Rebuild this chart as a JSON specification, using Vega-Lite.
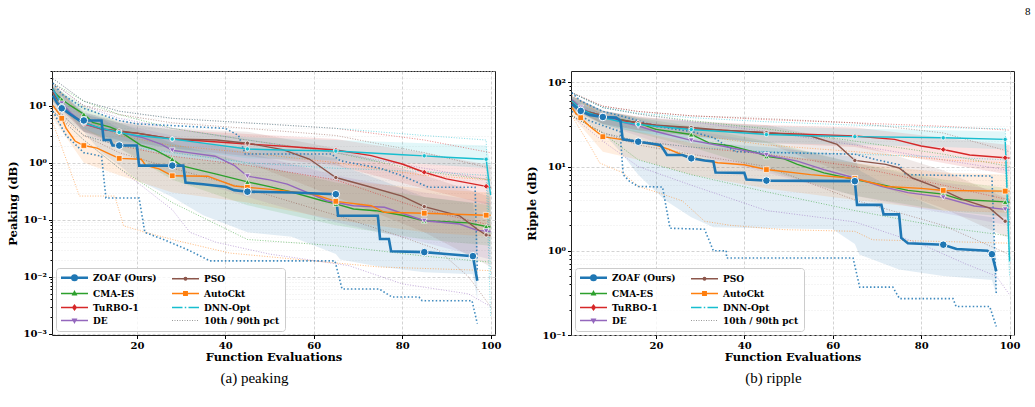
{
"$schema": "https://vega.github.io/schema/vega-lite/v6.json",
"background": "white",
"padding": {"left": 7, "top": 5, "right": 0, "bottom": 0},
"title": {"text": "8", "anchor": "end", "fontSize": 11, "font": "Liberation Serif", "fontWeight": "normal", "color": "#000", "offset": 49, "dx": 10},
"config": {
  "view": {"stroke": "#222", "strokeWidth": 1},
  "font": "DejaVu Serif",
  "axis": {"labelFont": "DejaVu Serif", "labelFontWeight": "bold", "labelFontSize": 10, "labelColor": "#000", "titleFont": "DejaVu Serif", "titleFontWeight": "bold", "titleFontSize": 11.5, "titleColor": "#000", "tickColor": "#000", "domain": false, "gridColor": "#c8c8c8", "gridWidth": 0.8, "gridDash": [3, 2], "tickSize": 3.5, "labelOverlap": false}
},
"resolve": {"scale": {"color": "independent", "shape": "independent", "stroke": "independent"}},
"spacing": 24,
"datasets": {
"med": [
{"p":"a","m":"ZOAF (Ours)","x":1,"v":15},{"p":"a","m":"ZOAF (Ours)","x":2,"v":11},{"p":"a","m":"ZOAF (Ours)","x":3,"v":9},{"p":"a","m":"ZOAF (Ours)","x":5,"v":7},{"p":"a","m":"ZOAF (Ours)","x":7,"v":5.5},{"p":"a","m":"ZOAF (Ours)","x":8,"v":5.5},{"p":"a","m":"ZOAF (Ours)","x":12,"v":5.5},{"p":"a","m":"ZOAF (Ours)","x":12.5,"v":2.5},{"p":"a","m":"ZOAF (Ours)","x":14,"v":2.5},{"p":"a","m":"ZOAF (Ours)","x":14.5,"v":2.0},{"p":"a","m":"ZOAF (Ours)","x":16,"v":2.0},{"p":"a","m":"ZOAF (Ours)","x":20,"v":2.0},{"p":"a","m":"ZOAF (Ours)","x":20.5,"v":0.89},{"p":"a","m":"ZOAF (Ours)","x":28,"v":0.89},{"p":"a","m":"ZOAF (Ours)","x":30.5,"v":0.89},{"p":"a","m":"ZOAF (Ours)","x":31,"v":0.45},{"p":"a","m":"ZOAF (Ours)","x":35,"v":0.42},{"p":"a","m":"ZOAF (Ours)","x":40,"v":0.38},{"p":"a","m":"ZOAF (Ours)","x":42,"v":0.33},{"p":"a","m":"ZOAF (Ours)","x":45,"v":0.31},{"p":"a","m":"ZOAF (Ours)","x":55,"v":0.3},{"p":"a","m":"ZOAF (Ours)","x":65,"v":0.28},{"p":"a","m":"ZOAF (Ours)","x":65.5,"v":0.117},{"p":"a","m":"ZOAF (Ours)","x":74.5,"v":0.117},{"p":"a","m":"ZOAF (Ours)","x":75,"v":0.046},{"p":"a","m":"ZOAF (Ours)","x":77,"v":0.046},{"p":"a","m":"ZOAF (Ours)","x":77.5,"v":0.028},{"p":"a","m":"ZOAF (Ours)","x":85,"v":0.027},{"p":"a","m":"ZOAF (Ours)","x":90,"v":0.025},{"p":"a","m":"ZOAF (Ours)","x":96,"v":0.023},{"p":"a","m":"ZOAF (Ours)","x":97,"v":0.0085},
{"p":"a","m":"CMA-ES","x":1,"v":18},{"p":"a","m":"CMA-ES","x":3,"v":13},{"p":"a","m":"CMA-ES","x":5,"v":10},{"p":"a","m":"CMA-ES","x":8,"v":7.1},{"p":"a","m":"CMA-ES","x":10,"v":5.1},{"p":"a","m":"CMA-ES","x":14,"v":4.2},{"p":"a","m":"CMA-ES","x":16,"v":3.6},{"p":"a","m":"CMA-ES","x":17,"v":3.2},{"p":"a","m":"CMA-ES","x":21,"v":2.0},{"p":"a","m":"CMA-ES","x":24,"v":1.7},{"p":"a","m":"CMA-ES","x":28,"v":1.16},{"p":"a","m":"CMA-ES","x":30,"v":0.89},{"p":"a","m":"CMA-ES","x":33,"v":0.78},{"p":"a","m":"CMA-ES","x":38,"v":0.63},{"p":"a","m":"CMA-ES","x":45,"v":0.46},{"p":"a","m":"CMA-ES","x":50,"v":0.38},{"p":"a","m":"CMA-ES","x":54,"v":0.32},{"p":"a","m":"CMA-ES","x":62,"v":0.215},{"p":"a","m":"CMA-ES","x":65,"v":0.19},{"p":"a","m":"CMA-ES","x":69,"v":0.154},{"p":"a","m":"CMA-ES","x":74,"v":0.144},{"p":"a","m":"CMA-ES","x":80,"v":0.12},{"p":"a","m":"CMA-ES","x":85,"v":0.096},{"p":"a","m":"CMA-ES","x":90,"v":0.092},{"p":"a","m":"CMA-ES","x":95,"v":0.088},{"p":"a","m":"CMA-ES","x":99,"v":0.076},{"p":"a","m":"CMA-ES","x":100,"v":0.075},
{"p":"a","m":"TuRBO-1","x":1,"v":20},{"p":"a","m":"TuRBO-1","x":3,"v":10},{"p":"a","m":"TuRBO-1","x":5,"v":7},{"p":"a","m":"TuRBO-1","x":8,"v":4.8},{"p":"a","m":"TuRBO-1","x":12,"v":3.9},{"p":"a","m":"TuRBO-1","x":16,"v":3.5},{"p":"a","m":"TuRBO-1","x":20,"v":3.3},{"p":"a","m":"TuRBO-1","x":28,"v":2.6},{"p":"a","m":"TuRBO-1","x":35,"v":2.4},{"p":"a","m":"TuRBO-1","x":45,"v":2.13},{"p":"a","m":"TuRBO-1","x":55,"v":1.9},{"p":"a","m":"TuRBO-1","x":65,"v":1.67},{"p":"a","m":"TuRBO-1","x":73,"v":1.33},{"p":"a","m":"TuRBO-1","x":80,"v":0.95},{"p":"a","m":"TuRBO-1","x":85,"v":0.68},{"p":"a","m":"TuRBO-1","x":90,"v":0.52},{"p":"a","m":"TuRBO-1","x":99,"v":0.385},{"p":"a","m":"TuRBO-1","x":100,"v":0.37},
{"p":"a","m":"DE","x":1,"v":18},{"p":"a","m":"DE","x":3,"v":11},{"p":"a","m":"DE","x":5,"v":7.5},{"p":"a","m":"DE","x":8,"v":4.9},{"p":"a","m":"DE","x":12,"v":3.9},{"p":"a","m":"DE","x":16,"v":3.4},{"p":"a","m":"DE","x":21,"v":2.8},{"p":"a","m":"DE","x":25.6,"v":2.1},{"p":"a","m":"DE","x":28,"v":1.65},{"p":"a","m":"DE","x":31.7,"v":1.5},{"p":"a","m":"DE","x":37.7,"v":1.3},{"p":"a","m":"DE","x":42,"v":0.9},{"p":"a","m":"DE","x":45,"v":0.58},{"p":"a","m":"DE","x":50,"v":0.5},{"p":"a","m":"DE","x":54,"v":0.42},{"p":"a","m":"DE","x":63,"v":0.215},{"p":"a","m":"DE","x":65,"v":0.2},{"p":"a","m":"DE","x":69,"v":0.176},{"p":"a","m":"DE","x":76,"v":0.165},{"p":"a","m":"DE","x":85,"v":0.096},{"p":"a","m":"DE","x":93,"v":0.084},{"p":"a","m":"DE","x":97,"v":0.065},{"p":"a","m":"DE","x":99,"v":0.063},{"p":"a","m":"DE","x":100,"v":0.062},
{"p":"a","m":"PSO","x":1,"v":17},{"p":"a","m":"PSO","x":3,"v":10},{"p":"a","m":"PSO","x":5,"v":7},{"p":"a","m":"PSO","x":8,"v":5.1},{"p":"a","m":"PSO","x":12,"v":3.9},{"p":"a","m":"PSO","x":16,"v":3.6},{"p":"a","m":"PSO","x":20,"v":3.3},{"p":"a","m":"PSO","x":28,"v":2.6},{"p":"a","m":"PSO","x":38,"v":2.5},{"p":"a","m":"PSO","x":45,"v":2.2},{"p":"a","m":"PSO","x":53,"v":1.7},{"p":"a","m":"PSO","x":59,"v":1.16},{"p":"a","m":"PSO","x":65,"v":0.55},{"p":"a","m":"PSO","x":72,"v":0.39},{"p":"a","m":"PSO","x":80,"v":0.26},{"p":"a","m":"PSO","x":85,"v":0.17},{"p":"a","m":"PSO","x":93,"v":0.117},{"p":"a","m":"PSO","x":97,"v":0.068},{"p":"a","m":"PSO","x":99,"v":0.054},{"p":"a","m":"PSO","x":100,"v":0.053},
{"p":"a","m":"AutoCkt","x":1,"v":10},{"p":"a","m":"AutoCkt","x":2.4,"v":7.2},{"p":"a","m":"AutoCkt","x":3,"v":6.0},{"p":"a","m":"AutoCkt","x":4,"v":4.0},{"p":"a","m":"AutoCkt","x":6,"v":2.4},{"p":"a","m":"AutoCkt","x":8,"v":2.0},{"p":"a","m":"AutoCkt","x":11,"v":1.8},{"p":"a","m":"AutoCkt","x":14,"v":1.4},{"p":"a","m":"AutoCkt","x":16,"v":1.19},{"p":"a","m":"AutoCkt","x":21,"v":1.15},{"p":"a","m":"AutoCkt","x":22,"v":0.9},{"p":"a","m":"AutoCkt","x":25,"v":0.78},{"p":"a","m":"AutoCkt","x":28,"v":0.59},{"p":"a","m":"AutoCkt","x":36,"v":0.58},{"p":"a","m":"AutoCkt","x":42,"v":0.39},{"p":"a","m":"AutoCkt","x":45,"v":0.37},{"p":"a","m":"AutoCkt","x":52,"v":0.33},{"p":"a","m":"AutoCkt","x":60,"v":0.28},{"p":"a","m":"AutoCkt","x":65,"v":0.21},{"p":"a","m":"AutoCkt","x":73,"v":0.176},{"p":"a","m":"AutoCkt","x":76,"v":0.135},{"p":"a","m":"AutoCkt","x":85,"v":0.13},{"p":"a","m":"AutoCkt","x":99,"v":0.12},{"p":"a","m":"AutoCkt","x":100,"v":0.12},
{"p":"a","m":"DNN-Opt","x":1,"v":20},{"p":"a","m":"DNN-Opt","x":3,"v":10},{"p":"a","m":"DNN-Opt","x":5,"v":7},{"p":"a","m":"DNN-Opt","x":8,"v":5.0},{"p":"a","m":"DNN-Opt","x":12,"v":4.0},{"p":"a","m":"DNN-Opt","x":16,"v":3.4},{"p":"a","m":"DNN-Opt","x":20,"v":3.0},{"p":"a","m":"DNN-Opt","x":28,"v":2.6},{"p":"a","m":"DNN-Opt","x":35,"v":2.2},{"p":"a","m":"DNN-Opt","x":45,"v":1.74},{"p":"a","m":"DNN-Opt","x":55,"v":1.65},{"p":"a","m":"DNN-Opt","x":65,"v":1.6},{"p":"a","m":"DNN-Opt","x":80,"v":1.38},{"p":"a","m":"DNN-Opt","x":85,"v":1.32},{"p":"a","m":"DNN-Opt","x":90,"v":1.25},{"p":"a","m":"DNN-Opt","x":99,"v":1.15},{"p":"a","m":"DNN-Opt","x":100,"v":0.27},
{"p":"b","m":"ZOAF (Ours)","x":1,"v":55},{"p":"b","m":"ZOAF (Ours)","x":3,"v":45.7},{"p":"b","m":"ZOAF (Ours)","x":5,"v":41},{"p":"b","m":"ZOAF (Ours)","x":8,"v":38.7},{"p":"b","m":"ZOAF (Ours)","x":11,"v":38},{"p":"b","m":"ZOAF (Ours)","x":12,"v":35},{"p":"b","m":"ZOAF (Ours)","x":12.5,"v":21},{"p":"b","m":"ZOAF (Ours)","x":16,"v":19.7},{"p":"b","m":"ZOAF (Ours)","x":18,"v":19},{"p":"b","m":"ZOAF (Ours)","x":21,"v":18},{"p":"b","m":"ZOAF (Ours)","x":21.5,"v":16.7},{"p":"b","m":"ZOAF (Ours)","x":22.5,"v":13.7},{"p":"b","m":"ZOAF (Ours)","x":26,"v":13.7},{"p":"b","m":"ZOAF (Ours)","x":28,"v":12.5},{"p":"b","m":"ZOAF (Ours)","x":31,"v":11.8},{"p":"b","m":"ZOAF (Ours)","x":33,"v":11.5},{"p":"b","m":"ZOAF (Ours)","x":33.5,"v":8.5},{"p":"b","m":"ZOAF (Ours)","x":40,"v":8.4},{"p":"b","m":"ZOAF (Ours)","x":40.5,"v":7.0},{"p":"b","m":"ZOAF (Ours)","x":45,"v":6.8},{"p":"b","m":"ZOAF (Ours)","x":65,"v":6.7},{"p":"b","m":"ZOAF (Ours)","x":65.5,"v":3.5},{"p":"b","m":"ZOAF (Ours)","x":71,"v":3.5},{"p":"b","m":"ZOAF (Ours)","x":71.5,"v":2.7},{"p":"b","m":"ZOAF (Ours)","x":75,"v":2.7},{"p":"b","m":"ZOAF (Ours)","x":75.5,"v":1.42},{"p":"b","m":"ZOAF (Ours)","x":77,"v":1.23},{"p":"b","m":"ZOAF (Ours)","x":85,"v":1.18},{"p":"b","m":"ZOAF (Ours)","x":88,"v":1.05},{"p":"b","m":"ZOAF (Ours)","x":95,"v":1.0},{"p":"b","m":"ZOAF (Ours)","x":96,"v":0.91},{"p":"b","m":"ZOAF (Ours)","x":97,"v":0.57},
{"p":"b","m":"CMA-ES","x":1,"v":60},{"p":"b","m":"CMA-ES","x":3,"v":48},{"p":"b","m":"CMA-ES","x":5,"v":44},{"p":"b","m":"CMA-ES","x":8,"v":40},{"p":"b","m":"CMA-ES","x":12,"v":36},{"p":"b","m":"CMA-ES","x":16,"v":33},{"p":"b","m":"CMA-ES","x":20,"v":27.6},{"p":"b","m":"CMA-ES","x":28,"v":24},{"p":"b","m":"CMA-ES","x":32,"v":19.1},{"p":"b","m":"CMA-ES","x":37,"v":17.5},{"p":"b","m":"CMA-ES","x":43,"v":14.5},{"p":"b","m":"CMA-ES","x":45,"v":13.2},{"p":"b","m":"CMA-ES","x":49,"v":12.3},{"p":"b","m":"CMA-ES","x":52,"v":10.6},{"p":"b","m":"CMA-ES","x":58,"v":8.4},{"p":"b","m":"CMA-ES","x":65,"v":7.0},{"p":"b","m":"CMA-ES","x":71,"v":6.1},{"p":"b","m":"CMA-ES","x":77,"v":5.2},{"p":"b","m":"CMA-ES","x":85,"v":4.7},{"p":"b","m":"CMA-ES","x":89,"v":4.05},{"p":"b","m":"CMA-ES","x":99,"v":3.8},{"p":"b","m":"CMA-ES","x":100,"v":3.77},
{"p":"b","m":"TuRBO-1","x":1,"v":58},{"p":"b","m":"TuRBO-1","x":3,"v":46},{"p":"b","m":"TuRBO-1","x":5,"v":42},{"p":"b","m":"TuRBO-1","x":8,"v":39},{"p":"b","m":"TuRBO-1","x":12,"v":35},{"p":"b","m":"TuRBO-1","x":16,"v":33},{"p":"b","m":"TuRBO-1","x":20,"v":31},{"p":"b","m":"TuRBO-1","x":28,"v":28},{"p":"b","m":"TuRBO-1","x":35,"v":27},{"p":"b","m":"TuRBO-1","x":45,"v":25},{"p":"b","m":"TuRBO-1","x":55,"v":24},{"p":"b","m":"TuRBO-1","x":65,"v":23},{"p":"b","m":"TuRBO-1","x":74,"v":21},{"p":"b","m":"TuRBO-1","x":80,"v":17.5},{"p":"b","m":"TuRBO-1","x":85,"v":15.9},{"p":"b","m":"TuRBO-1","x":91,"v":13.7},{"p":"b","m":"TuRBO-1","x":99,"v":12.7},{"p":"b","m":"TuRBO-1","x":100,"v":12.6},
{"p":"b","m":"DE","x":1,"v":62},{"p":"b","m":"DE","x":3,"v":50},{"p":"b","m":"DE","x":5,"v":44},{"p":"b","m":"DE","x":8,"v":40},{"p":"b","m":"DE","x":12,"v":34},{"p":"b","m":"DE","x":16,"v":30.3},{"p":"b","m":"DE","x":20,"v":26},{"p":"b","m":"DE","x":28,"v":20.4},{"p":"b","m":"DE","x":35,"v":17.5},{"p":"b","m":"DE","x":45,"v":13.7},{"p":"b","m":"DE","x":52,"v":11.6},{"p":"b","m":"DE","x":58,"v":9.2},{"p":"b","m":"DE","x":65,"v":7.3},{"p":"b","m":"DE","x":71,"v":5.8},{"p":"b","m":"DE","x":77,"v":4.9},{"p":"b","m":"DE","x":85,"v":4.3},{"p":"b","m":"DE","x":92,"v":3.4},{"p":"b","m":"DE","x":99,"v":3.1},{"p":"b","m":"DE","x":100,"v":3.08},
{"p":"b","m":"PSO","x":1,"v":60},{"p":"b","m":"PSO","x":3,"v":48},{"p":"b","m":"PSO","x":5,"v":44},{"p":"b","m":"PSO","x":8,"v":40},{"p":"b","m":"PSO","x":12,"v":36},{"p":"b","m":"PSO","x":16,"v":33},{"p":"b","m":"PSO","x":20,"v":31},{"p":"b","m":"PSO","x":28,"v":29},{"p":"b","m":"PSO","x":35,"v":27},{"p":"b","m":"PSO","x":45,"v":25.2},{"p":"b","m":"PSO","x":55,"v":23},{"p":"b","m":"PSO","x":61,"v":18.3},{"p":"b","m":"PSO","x":65,"v":11.8},{"p":"b","m":"PSO","x":72,"v":10.6},{"p":"b","m":"PSO","x":75,"v":9.6},{"p":"b","m":"PSO","x":78,"v":7.3},{"p":"b","m":"PSO","x":83,"v":5.8},{"p":"b","m":"PSO","x":85,"v":5.2},{"p":"b","m":"PSO","x":89.5,"v":4.05},{"p":"b","m":"PSO","x":95.5,"v":3.2},{"p":"b","m":"PSO","x":99,"v":2.24},{"p":"b","m":"PSO","x":100,"v":2.2},
{"p":"b","m":"AutoCkt","x":1,"v":50},{"p":"b","m":"AutoCkt","x":2,"v":42},{"p":"b","m":"AutoCkt","x":3,"v":38},{"p":"b","m":"AutoCkt","x":5,"v":30},{"p":"b","m":"AutoCkt","x":8,"v":22.6},{"p":"b","m":"AutoCkt","x":12,"v":21},{"p":"b","m":"AutoCkt","x":16,"v":19.7},{"p":"b","m":"AutoCkt","x":20,"v":18},{"p":"b","m":"AutoCkt","x":23,"v":16},{"p":"b","m":"AutoCkt","x":26,"v":13.7},{"p":"b","m":"AutoCkt","x":28,"v":12.9},{"p":"b","m":"AutoCkt","x":32,"v":11.6},{"p":"b","m":"AutoCkt","x":34,"v":11.1},{"p":"b","m":"AutoCkt","x":40,"v":10.5},{"p":"b","m":"AutoCkt","x":45,"v":9.2},{"p":"b","m":"AutoCkt","x":55,"v":8.0},{"p":"b","m":"AutoCkt","x":65,"v":7.2},{"p":"b","m":"AutoCkt","x":70,"v":6.2},{"p":"b","m":"AutoCkt","x":72,"v":5.8},{"p":"b","m":"AutoCkt","x":80,"v":5.5},{"p":"b","m":"AutoCkt","x":85,"v":5.2},{"p":"b","m":"AutoCkt","x":99,"v":5.1},{"p":"b","m":"AutoCkt","x":100,"v":5.1},
{"p":"b","m":"DNN-Opt","x":1,"v":60},{"p":"b","m":"DNN-Opt","x":3,"v":48},{"p":"b","m":"DNN-Opt","x":5,"v":43},{"p":"b","m":"DNN-Opt","x":8,"v":38},{"p":"b","m":"DNN-Opt","x":12,"v":34},{"p":"b","m":"DNN-Opt","x":16,"v":31.6},{"p":"b","m":"DNN-Opt","x":20,"v":30},{"p":"b","m":"DNN-Opt","x":28,"v":27.5},{"p":"b","m":"DNN-Opt","x":35,"v":26},{"p":"b","m":"DNN-Opt","x":45,"v":24},{"p":"b","m":"DNN-Opt","x":55,"v":23.2},{"p":"b","m":"DNN-Opt","x":65,"v":22.6},{"p":"b","m":"DNN-Opt","x":85,"v":21.9},{"p":"b","m":"DNN-Opt","x":99,"v":21},{"p":"b","m":"DNN-Opt","x":100,"v":0.75}
],
"band": [
{"p":"a","m":"ZOAF (Ours)","x":1,"v":10,"v2":20},{"p":"a","m":"ZOAF (Ours)","x":3,"v":6,"v2":12},{"p":"a","m":"ZOAF (Ours)","x":8,"v":3.5,"v2":7},{"p":"a","m":"ZOAF (Ours)","x":12,"v":1.5,"v2":6},{"p":"a","m":"ZOAF (Ours)","x":16,"v":0.9,"v2":4},{"p":"a","m":"ZOAF (Ours)","x":20,"v":0.5,"v2":3},{"p":"a","m":"ZOAF (Ours)","x":28,"v":0.25,"v2":2.5},{"p":"a","m":"ZOAF (Ours)","x":35,"v":0.12,"v2":2.2},{"p":"a","m":"ZOAF (Ours)","x":45,"v":0.06,"v2":1.8},{"p":"a","m":"ZOAF (Ours)","x":55,"v":0.05,"v2":1.6},{"p":"a","m":"ZOAF (Ours)","x":65,"v":0.025,"v2":1.2},{"p":"a","m":"ZOAF (Ours)","x":66,"v":0.02,"v2":0.9},{"p":"a","m":"ZOAF (Ours)","x":75,"v":0.015,"v2":0.5},{"p":"a","m":"ZOAF (Ours)","x":85,"v":0.012,"v2":0.25},{"p":"a","m":"ZOAF (Ours)","x":96,"v":0.011,"v2":0.2},{"p":"a","m":"ZOAF (Ours)","x":97,"v":0.004,"v2":0.05},
{"p":"a","m":"CMA-ES","x":1,"v":12,"v2":22},{"p":"a","m":"CMA-ES","x":8,"v":4,"v2":10},{"p":"a","m":"CMA-ES","x":16,"v":1.8,"v2":5},{"p":"a","m":"CMA-ES","x":28,"v":0.5,"v2":2.2},{"p":"a","m":"CMA-ES","x":45,"v":0.18,"v2":1.0},{"p":"a","m":"CMA-ES","x":65,"v":0.08,"v2":0.45},{"p":"a","m":"CMA-ES","x":85,"v":0.045,"v2":0.25},{"p":"a","m":"CMA-ES","x":100,"v":0.035,"v2":0.18},
{"p":"a","m":"TuRBO-1","x":1,"v":14,"v2":25},{"p":"a","m":"TuRBO-1","x":8,"v":3.5,"v2":7},{"p":"a","m":"TuRBO-1","x":16,"v":2.5,"v2":5},{"p":"a","m":"TuRBO-1","x":28,"v":1.8,"v2":3.8},{"p":"a","m":"TuRBO-1","x":45,"v":1.3,"v2":3.2},{"p":"a","m":"TuRBO-1","x":65,"v":0.9,"v2":2.6},{"p":"a","m":"TuRBO-1","x":85,"v":0.35,"v2":1.5},{"p":"a","m":"TuRBO-1","x":100,"v":0.18,"v2":0.9},
{"p":"a","m":"DE","x":1,"v":12,"v2":22},{"p":"a","m":"DE","x":8,"v":3.5,"v2":8},{"p":"a","m":"DE","x":16,"v":1.8,"v2":4.8},{"p":"a","m":"DE","x":28,"v":0.6,"v2":3},{"p":"a","m":"DE","x":45,"v":0.25,"v2":1.5},{"p":"a","m":"DE","x":65,"v":0.09,"v2":0.6},{"p":"a","m":"DE","x":85,"v":0.04,"v2":0.3},{"p":"a","m":"DE","x":100,"v":0.02,"v2":0.2},
{"p":"a","m":"PSO","x":1,"v":12,"v2":22},{"p":"a","m":"PSO","x":8,"v":3.5,"v2":7.5},{"p":"a","m":"PSO","x":16,"v":2.2,"v2":5.5},{"p":"a","m":"PSO","x":28,"v":1.5,"v2":4},{"p":"a","m":"PSO","x":45,"v":1.0,"v2":3.5},{"p":"a","m":"PSO","x":65,"v":0.25,"v2":1.8},{"p":"a","m":"PSO","x":85,"v":0.06,"v2":0.6},{"p":"a","m":"PSO","x":100,"v":0.015,"v2":0.25},
{"p":"a","m":"AutoCkt","x":1,"v":6,"v2":15},{"p":"a","m":"AutoCkt","x":8,"v":1.0,"v2":4},{"p":"a","m":"AutoCkt","x":16,"v":0.6,"v2":2.2},{"p":"a","m":"AutoCkt","x":28,"v":0.3,"v2":1.3},{"p":"a","m":"AutoCkt","x":45,"v":0.2,"v2":0.9},{"p":"a","m":"AutoCkt","x":65,"v":0.1,"v2":0.5},{"p":"a","m":"AutoCkt","x":85,"v":0.06,"v2":0.35},{"p":"a","m":"AutoCkt","x":100,"v":0.05,"v2":0.3},
{"p":"a","m":"DNN-Opt","x":1,"v":14,"v2":25},{"p":"a","m":"DNN-Opt","x":8,"v":3.5,"v2":7.5},{"p":"a","m":"DNN-Opt","x":16,"v":2.4,"v2":5},{"p":"a","m":"DNN-Opt","x":28,"v":1.8,"v2":3.8},{"p":"a","m":"DNN-Opt","x":45,"v":1.2,"v2":2.8},{"p":"a","m":"DNN-Opt","x":65,"v":1.1,"v2":2.5},{"p":"a","m":"DNN-Opt","x":85,"v":0.95,"v2":2.2},{"p":"a","m":"DNN-Opt","x":99,"v":0.8,"v2":2.0},{"p":"a","m":"DNN-Opt","x":100,"v":0.02,"v2":1.0},
{"p":"b","m":"ZOAF (Ours)","x":1,"v":45,"v2":65},{"p":"b","m":"ZOAF (Ours)","x":3,"v":38,"v2":55},{"p":"b","m":"ZOAF (Ours)","x":8,"v":25,"v2":42},{"p":"b","m":"ZOAF (Ours)","x":12,"v":15,"v2":38},{"p":"b","m":"ZOAF (Ours)","x":16,"v":8,"v2":30},{"p":"b","m":"ZOAF (Ours)","x":22,"v":4,"v2":25},{"p":"b","m":"ZOAF (Ours)","x":28,"v":2.5,"v2":22},{"p":"b","m":"ZOAF (Ours)","x":33,"v":1.9,"v2":19},{"p":"b","m":"ZOAF (Ours)","x":45,"v":1.85,"v2":17},{"p":"b","m":"ZOAF (Ours)","x":60,"v":1.8,"v2":14},{"p":"b","m":"ZOAF (Ours)","x":65,"v":1.2,"v2":13},{"p":"b","m":"ZOAF (Ours)","x":66,"v":0.9,"v2":9},{"p":"b","m":"ZOAF (Ours)","x":75,"v":0.6,"v2":5},{"p":"b","m":"ZOAF (Ours)","x":85,"v":0.5,"v2":3},{"p":"b","m":"ZOAF (Ours)","x":96,"v":0.45,"v2":2.5},{"p":"b","m":"ZOAF (Ours)","x":97,"v":0.3,"v2":0.8},
{"p":"b","m":"CMA-ES","x":1,"v":50,"v2":68},{"p":"b","m":"CMA-ES","x":8,"v":32,"v2":46},{"p":"b","m":"CMA-ES","x":16,"v":25,"v2":38},{"p":"b","m":"CMA-ES","x":28,"v":17,"v2":30},{"p":"b","m":"CMA-ES","x":45,"v":9,"v2":20},{"p":"b","m":"CMA-ES","x":65,"v":4.5,"v2":11},{"p":"b","m":"CMA-ES","x":85,"v":3,"v2":7},{"p":"b","m":"CMA-ES","x":100,"v":2.5,"v2":5.5},
{"p":"b","m":"TuRBO-1","x":1,"v":48,"v2":68},{"p":"b","m":"TuRBO-1","x":8,"v":32,"v2":46},{"p":"b","m":"TuRBO-1","x":16,"v":27,"v2":39},{"p":"b","m":"TuRBO-1","x":28,"v":23,"v2":34},{"p":"b","m":"TuRBO-1","x":45,"v":19,"v2":31},{"p":"b","m":"TuRBO-1","x":65,"v":17,"v2":29},{"p":"b","m":"TuRBO-1","x":85,"v":11,"v2":22},{"p":"b","m":"TuRBO-1","x":100,"v":8,"v2":18},
{"p":"b","m":"DE","x":1,"v":50,"v2":70},{"p":"b","m":"DE","x":8,"v":32,"v2":46},{"p":"b","m":"DE","x":16,"v":23,"v2":37},{"p":"b","m":"DE","x":28,"v":14,"v2":27},{"p":"b","m":"DE","x":45,"v":8.5,"v2":19},{"p":"b","m":"DE","x":65,"v":4.5,"v2":11},{"p":"b","m":"DE","x":85,"v":2.8,"v2":6.5},{"p":"b","m":"DE","x":100,"v":2.0,"v2":5},
{"p":"b","m":"PSO","x":1,"v":48,"v2":68},{"p":"b","m":"PSO","x":8,"v":32,"v2":46},{"p":"b","m":"PSO","x":16,"v":27,"v2":39},{"p":"b","m":"PSO","x":28,"v":23,"v2":35},{"p":"b","m":"PSO","x":45,"v":19,"v2":31},{"p":"b","m":"PSO","x":65,"v":7.5,"v2":19},{"p":"b","m":"PSO","x":85,"v":3.2,"v2":9},{"p":"b","m":"PSO","x":100,"v":1.4,"v2":4},
{"p":"b","m":"AutoCkt","x":1,"v":40,"v2":62},{"p":"b","m":"AutoCkt","x":8,"v":15,"v2":32},{"p":"b","m":"AutoCkt","x":16,"v":12,"v2":26},{"p":"b","m":"AutoCkt","x":28,"v":8,"v2":19},{"p":"b","m":"AutoCkt","x":45,"v":5.5,"v2":14},{"p":"b","m":"AutoCkt","x":65,"v":4,"v2":11},{"p":"b","m":"AutoCkt","x":85,"v":3,"v2":8.5},{"p":"b","m":"AutoCkt","x":100,"v":2.8,"v2":8},
{"p":"b","m":"DNN-Opt","x":1,"v":48,"v2":68},{"p":"b","m":"DNN-Opt","x":8,"v":31,"v2":46},{"p":"b","m":"DNN-Opt","x":16,"v":25,"v2":38},{"p":"b","m":"DNN-Opt","x":28,"v":22,"v2":34},{"p":"b","m":"DNN-Opt","x":45,"v":19,"v2":30},{"p":"b","m":"DNN-Opt","x":65,"v":18,"v2":28},{"p":"b","m":"DNN-Opt","x":85,"v":17,"v2":27},{"p":"b","m":"DNN-Opt","x":99,"v":16,"v2":26},{"p":"b","m":"DNN-Opt","x":100,"v":0.3,"v2":2}
],
"pct": [
{"p":"a","m":"ZOAF (Ours)","q":"p10","x":1,"v":8},{"p":"a","m":"ZOAF (Ours)","q":"p10","x":4,"v":3},{"p":"a","m":"ZOAF (Ours)","q":"p10","x":8,"v":1.5},{"p":"a","m":"ZOAF (Ours)","q":"p10","x":12,"v":1.3},{"p":"a","m":"ZOAF (Ours)","q":"p10","x":13,"v":0.24},{"p":"a","m":"ZOAF (Ours)","q":"p10","x":20.5,"v":0.24},{"p":"a","m":"ZOAF (Ours)","q":"p10","x":21.8,"v":0.06},{"p":"a","m":"ZOAF (Ours)","q":"p10","x":26,"v":0.045},{"p":"a","m":"ZOAF (Ours)","q":"p10","x":31.8,"v":0.029},{"p":"a","m":"ZOAF (Ours)","q":"p10","x":36.5,"v":0.019},{"p":"a","m":"ZOAF (Ours)","q":"p10","x":64.8,"v":0.019},{"p":"a","m":"ZOAF (Ours)","q":"p10","x":66.4,"v":0.0061},{"p":"a","m":"ZOAF (Ours)","q":"p10","x":74.8,"v":0.0061},{"p":"a","m":"ZOAF (Ours)","q":"p10","x":77.7,"v":0.0044},{"p":"a","m":"ZOAF (Ours)","q":"p10","x":83.8,"v":0.0044},{"p":"a","m":"ZOAF (Ours)","q":"p10","x":84.5,"v":0.0038},{"p":"a","m":"ZOAF (Ours)","q":"p10","x":95.8,"v":0.0038},{"p":"a","m":"ZOAF (Ours)","q":"p10","x":97,"v":0.0015},
{"p":"a","m":"ZOAF (Ours)","q":"p90","x":1,"v":25},{"p":"a","m":"ZOAF (Ours)","q":"p90","x":3,"v":16},{"p":"a","m":"ZOAF (Ours)","q":"p90","x":8,"v":9},{"p":"a","m":"ZOAF (Ours)","q":"p90","x":12,"v":7},{"p":"a","m":"ZOAF (Ours)","q":"p90","x":16,"v":5.5},{"p":"a","m":"ZOAF (Ours)","q":"p90","x":20,"v":4.8},{"p":"a","m":"ZOAF (Ours)","q":"p90","x":30,"v":4.4},{"p":"a","m":"ZOAF (Ours)","q":"p90","x":40,"v":4.0},{"p":"a","m":"ZOAF (Ours)","q":"p90","x":43,"v":3.0},{"p":"a","m":"ZOAF (Ours)","q":"p90","x":44.5,"v":1.42},{"p":"a","m":"ZOAF (Ours)","q":"p90","x":64,"v":1.42},{"p":"a","m":"ZOAF (Ours)","q":"p90","x":66,"v":1.08},{"p":"a","m":"ZOAF (Ours)","q":"p90","x":75,"v":0.8},{"p":"a","m":"ZOAF (Ours)","q":"p90","x":80,"v":0.59},{"p":"a","m":"ZOAF (Ours)","q":"p90","x":86,"v":0.37},{"p":"a","m":"ZOAF (Ours)","q":"p90","x":96.5,"v":0.37},{"p":"a","m":"ZOAF (Ours)","q":"p90","x":97,"v":0.012},
{"p":"a","m":"CMA-ES","q":"p10","x":1,"v":8},{"p":"a","m":"CMA-ES","q":"p10","x":8,"v":2.5},{"p":"a","m":"CMA-ES","q":"p10","x":16,"v":0.8},{"p":"a","m":"CMA-ES","q":"p10","x":28,"v":0.2},{"p":"a","m":"CMA-ES","q":"p10","x":45,"v":0.045},{"p":"a","m":"CMA-ES","q":"p10","x":65,"v":0.035},{"p":"a","m":"CMA-ES","q":"p10","x":85,"v":0.023},{"p":"a","m":"CMA-ES","q":"p10","x":100,"v":0.018},
{"p":"a","m":"CMA-ES","q":"p90","x":1,"v":25},{"p":"a","m":"CMA-ES","q":"p90","x":8,"v":12},{"p":"a","m":"CMA-ES","q":"p90","x":16,"v":7},{"p":"a","m":"CMA-ES","q":"p90","x":28,"v":4},{"p":"a","m":"CMA-ES","q":"p90","x":45,"v":2.5},{"p":"a","m":"CMA-ES","q":"p90","x":65,"v":1.5},{"p":"a","m":"CMA-ES","q":"p90","x":85,"v":0.7},{"p":"a","m":"CMA-ES","q":"p90","x":100,"v":0.5},
{"p":"a","m":"TuRBO-1","q":"p10","x":1,"v":10},{"p":"a","m":"TuRBO-1","q":"p10","x":8,"v":3},{"p":"a","m":"TuRBO-1","q":"p10","x":16,"v":2},{"p":"a","m":"TuRBO-1","q":"p10","x":28,"v":1.3},{"p":"a","m":"TuRBO-1","q":"p10","x":45,"v":0.9},{"p":"a","m":"TuRBO-1","q":"p10","x":65,"v":0.5},{"p":"a","m":"TuRBO-1","q":"p10","x":85,"v":0.15},{"p":"a","m":"TuRBO-1","q":"p10","x":100,"v":0.08},
{"p":"a","m":"TuRBO-1","q":"p90","x":1,"v":30},{"p":"a","m":"TuRBO-1","q":"p90","x":8,"v":12},{"p":"a","m":"TuRBO-1","q":"p90","x":16,"v":8},{"p":"a","m":"TuRBO-1","q":"p90","x":28,"v":6},{"p":"a","m":"TuRBO-1","q":"p90","x":45,"v":5},{"p":"a","m":"TuRBO-1","q":"p90","x":65,"v":4},{"p":"a","m":"TuRBO-1","q":"p90","x":85,"v":2.5},{"p":"a","m":"TuRBO-1","q":"p90","x":100,"v":1.5},
{"p":"a","m":"DE","q":"p10","x":1,"v":8},{"p":"a","m":"DE","q":"p10","x":8,"v":2.5},{"p":"a","m":"DE","q":"p10","x":16,"v":0.8},{"p":"a","m":"DE","q":"p10","x":28,"v":0.15},{"p":"a","m":"DE","q":"p10","x":32,"v":0.06},{"p":"a","m":"DE","q":"p10","x":38,"v":0.04},{"p":"a","m":"DE","q":"p10","x":50,"v":0.025},{"p":"a","m":"DE","q":"p10","x":68,"v":0.0156},{"p":"a","m":"DE","q":"p10","x":80,"v":0.0075},{"p":"a","m":"DE","q":"p10","x":95,"v":0.005},{"p":"a","m":"DE","q":"p10","x":100,"v":0.003},
{"p":"a","m":"DE","q":"p90","x":1,"v":25},{"p":"a","m":"DE","q":"p90","x":8,"v":10},{"p":"a","m":"DE","q":"p90","x":16,"v":6},{"p":"a","m":"DE","q":"p90","x":28,"v":4},{"p":"a","m":"DE","q":"p90","x":45,"v":2.5},{"p":"a","m":"DE","q":"p90","x":65,"v":1.5},{"p":"a","m":"DE","q":"p90","x":85,"v":0.8},{"p":"a","m":"DE","q":"p90","x":100,"v":0.5},
{"p":"a","m":"PSO","q":"p10","x":1,"v":8},{"p":"a","m":"PSO","q":"p10","x":8,"v":3},{"p":"a","m":"PSO","q":"p10","x":16,"v":1.5},{"p":"a","m":"PSO","q":"p10","x":28,"v":0.8},{"p":"a","m":"PSO","q":"p10","x":45,"v":0.35},{"p":"a","m":"PSO","q":"p10","x":65,"v":0.12},{"p":"a","m":"PSO","q":"p10","x":80,"v":0.05},{"p":"a","m":"PSO","q":"p10","x":88,"v":0.03},{"p":"a","m":"PSO","q":"p10","x":95,"v":0.01},{"p":"a","m":"PSO","q":"p10","x":100,"v":0.003},
{"p":"a","m":"PSO","q":"p90","x":1,"v":25},{"p":"a","m":"PSO","q":"p90","x":8,"v":10},{"p":"a","m":"PSO","q":"p90","x":16,"v":7},{"p":"a","m":"PSO","q":"p90","x":28,"v":5},{"p":"a","m":"PSO","q":"p90","x":45,"v":4},{"p":"a","m":"PSO","q":"p90","x":65,"v":3},{"p":"a","m":"PSO","q":"p90","x":85,"v":1.5},{"p":"a","m":"PSO","q":"p90","x":100,"v":0.8},
{"p":"a","m":"AutoCkt","q":"p10","x":1,"v":5},{"p":"a","m":"AutoCkt","q":"p10","x":4.5,"v":0.9},{"p":"a","m":"AutoCkt","q":"p10","x":7,"v":0.26},{"p":"a","m":"AutoCkt","q":"p10","x":15,"v":0.26},{"p":"a","m":"AutoCkt","q":"p10","x":17,"v":0.078},{"p":"a","m":"AutoCkt","q":"p10","x":22,"v":0.06},{"p":"a","m":"AutoCkt","q":"p10","x":29,"v":0.043},{"p":"a","m":"AutoCkt","q":"p10","x":41,"v":0.026},{"p":"a","m":"AutoCkt","q":"p10","x":63,"v":0.018},{"p":"a","m":"AutoCkt","q":"p10","x":75,"v":0.0148},{"p":"a","m":"AutoCkt","q":"p10","x":100,"v":0.0128},
{"p":"a","m":"AutoCkt","q":"p90","x":1,"v":25},{"p":"a","m":"AutoCkt","q":"p90","x":8,"v":6},{"p":"a","m":"AutoCkt","q":"p90","x":16,"v":3},{"p":"a","m":"AutoCkt","q":"p90","x":28,"v":2},{"p":"a","m":"AutoCkt","q":"p90","x":45,"v":1.5},{"p":"a","m":"AutoCkt","q":"p90","x":65,"v":1.0},{"p":"a","m":"AutoCkt","q":"p90","x":85,"v":0.6},{"p":"a","m":"AutoCkt","q":"p90","x":100,"v":0.5},
{"p":"a","m":"DNN-Opt","q":"p10","x":1,"v":10},{"p":"a","m":"DNN-Opt","q":"p10","x":8,"v":3},{"p":"a","m":"DNN-Opt","q":"p10","x":16,"v":2},{"p":"a","m":"DNN-Opt","q":"p10","x":28,"v":1.5},{"p":"a","m":"DNN-Opt","q":"p10","x":45,"v":1},{"p":"a","m":"DNN-Opt","q":"p10","x":65,"v":0.8},{"p":"a","m":"DNN-Opt","q":"p10","x":85,"v":0.7},{"p":"a","m":"DNN-Opt","q":"p10","x":99,"v":0.6},{"p":"a","m":"DNN-Opt","q":"p10","x":100,"v":0.002},
{"p":"a","m":"DNN-Opt","q":"p90","x":1,"v":30},{"p":"a","m":"DNN-Opt","q":"p90","x":8,"v":12},{"p":"a","m":"DNN-Opt","q":"p90","x":16,"v":8},{"p":"a","m":"DNN-Opt","q":"p90","x":28,"v":6},{"p":"a","m":"DNN-Opt","q":"p90","x":45,"v":5},{"p":"a","m":"DNN-Opt","q":"p90","x":65,"v":4},{"p":"a","m":"DNN-Opt","q":"p90","x":85,"v":3},{"p":"a","m":"DNN-Opt","q":"p90","x":99,"v":2.5},{"p":"a","m":"DNN-Opt","q":"p90","x":100,"v":0.01},
{"p":"b","m":"ZOAF (Ours)","q":"p10","x":1,"v":45},{"p":"b","m":"ZOAF (Ours)","q":"p10","x":5,"v":35},{"p":"b","m":"ZOAF (Ours)","q":"p10","x":11.9,"v":26},{"p":"b","m":"ZOAF (Ours)","q":"p10","x":12.6,"v":8.0},{"p":"b","m":"ZOAF (Ours)","q":"p10","x":14,"v":6.7},{"p":"b","m":"ZOAF (Ours)","q":"p10","x":16,"v":5.8},{"p":"b","m":"ZOAF (Ours)","q":"p10","x":21.5,"v":5.7},{"p":"b","m":"ZOAF (Ours)","q":"p10","x":23.2,"v":1.85},{"p":"b","m":"ZOAF (Ours)","q":"p10","x":31,"v":1.8},{"p":"b","m":"ZOAF (Ours)","q":"p10","x":33,"v":1.0},{"p":"b","m":"ZOAF (Ours)","q":"p10","x":35.9,"v":1.0},{"p":"b","m":"ZOAF (Ours)","q":"p10","x":36,"v":0.82},{"p":"b","m":"ZOAF (Ours)","q":"p10","x":64.6,"v":0.82},{"p":"b","m":"ZOAF (Ours)","q":"p10","x":66.1,"v":0.37},{"p":"b","m":"ZOAF (Ours)","q":"p10","x":73.6,"v":0.37},{"p":"b","m":"ZOAF (Ours)","q":"p10","x":75.1,"v":0.27},{"p":"b","m":"ZOAF (Ours)","q":"p10","x":87.2,"v":0.27},{"p":"b","m":"ZOAF (Ours)","q":"p10","x":87.9,"v":0.218},{"p":"b","m":"ZOAF (Ours)","q":"p10","x":95.5,"v":0.218},{"p":"b","m":"ZOAF (Ours)","q":"p10","x":97,"v":0.126},
{"p":"b","m":"ZOAF (Ours)","q":"p90","x":1,"v":75},{"p":"b","m":"ZOAF (Ours)","q":"p90","x":3,"v":60},{"p":"b","m":"ZOAF (Ours)","q":"p90","x":8,"v":45},{"p":"b","m":"ZOAF (Ours)","q":"p90","x":12,"v":40},{"p":"b","m":"ZOAF (Ours)","q":"p90","x":16,"v":35},{"p":"b","m":"ZOAF (Ours)","q":"p90","x":20,"v":30},{"p":"b","m":"ZOAF (Ours)","q":"p90","x":28,"v":26},{"p":"b","m":"ZOAF (Ours)","q":"p90","x":33,"v":22},{"p":"b","m":"ZOAF (Ours)","q":"p90","x":38,"v":15},{"p":"b","m":"ZOAF (Ours)","q":"p90","x":50,"v":14.5},{"p":"b","m":"ZOAF (Ours)","q":"p90","x":65,"v":14},{"p":"b","m":"ZOAF (Ours)","q":"p90","x":70,"v":12},{"p":"b","m":"ZOAF (Ours)","q":"p90","x":75,"v":10.5},{"p":"b","m":"ZOAF (Ours)","q":"p90","x":76.5,"v":8.0},{"p":"b","m":"ZOAF (Ours)","q":"p90","x":96,"v":7.7},{"p":"b","m":"ZOAF (Ours)","q":"p90","x":97,"v":0.3},
{"p":"b","m":"CMA-ES","q":"p10","x":1,"v":40},{"p":"b","m":"CMA-ES","q":"p10","x":8,"v":25},{"p":"b","m":"CMA-ES","q":"p10","x":16,"v":12},{"p":"b","m":"CMA-ES","q":"p10","x":28,"v":8},{"p":"b","m":"CMA-ES","q":"p10","x":45,"v":5},{"p":"b","m":"CMA-ES","q":"p10","x":65,"v":3},{"p":"b","m":"CMA-ES","q":"p10","x":85,"v":1.9},{"p":"b","m":"CMA-ES","q":"p10","x":100,"v":1.5},
{"p":"b","m":"CMA-ES","q":"p90","x":1,"v":75},{"p":"b","m":"CMA-ES","q":"p90","x":8,"v":50},{"p":"b","m":"CMA-ES","q":"p90","x":16,"v":42},{"p":"b","m":"CMA-ES","q":"p90","x":28,"v":35},{"p":"b","m":"CMA-ES","q":"p90","x":45,"v":28},{"p":"b","m":"CMA-ES","q":"p90","x":65,"v":20},{"p":"b","m":"CMA-ES","q":"p90","x":85,"v":14},{"p":"b","m":"CMA-ES","q":"p90","x":100,"v":10},
{"p":"b","m":"TuRBO-1","q":"p10","x":1,"v":40},{"p":"b","m":"TuRBO-1","q":"p10","x":8,"v":25},{"p":"b","m":"TuRBO-1","q":"p10","x":16,"v":20},{"p":"b","m":"TuRBO-1","q":"p10","x":28,"v":17},{"p":"b","m":"TuRBO-1","q":"p10","x":45,"v":14},{"p":"b","m":"TuRBO-1","q":"p10","x":65,"v":10},{"p":"b","m":"TuRBO-1","q":"p10","x":85,"v":6},{"p":"b","m":"TuRBO-1","q":"p10","x":100,"v":4},
{"p":"b","m":"TuRBO-1","q":"p90","x":1,"v":75},{"p":"b","m":"TuRBO-1","q":"p90","x":8,"v":52},{"p":"b","m":"TuRBO-1","q":"p90","x":16,"v":45},{"p":"b","m":"TuRBO-1","q":"p90","x":28,"v":40},{"p":"b","m":"TuRBO-1","q":"p90","x":45,"v":36},{"p":"b","m":"TuRBO-1","q":"p90","x":65,"v":33},{"p":"b","m":"TuRBO-1","q":"p90","x":85,"v":30},{"p":"b","m":"TuRBO-1","q":"p90","x":100,"v":27},
{"p":"b","m":"DE","q":"p10","x":1,"v":40},{"p":"b","m":"DE","q":"p10","x":8,"v":20},{"p":"b","m":"DE","q":"p10","x":16,"v":10},{"p":"b","m":"DE","q":"p10","x":28,"v":6},{"p":"b","m":"DE","q":"p10","x":45,"v":3},{"p":"b","m":"DE","q":"p10","x":65,"v":2.2},{"p":"b","m":"DE","q":"p10","x":80,"v":1.2},{"p":"b","m":"DE","q":"p10","x":90,"v":0.7},{"p":"b","m":"DE","q":"p10","x":97,"v":0.5},{"p":"b","m":"DE","q":"p10","x":100,"v":0.3},
{"p":"b","m":"DE","q":"p90","x":1,"v":75},{"p":"b","m":"DE","q":"p90","x":8,"v":50},{"p":"b","m":"DE","q":"p90","x":16,"v":42},{"p":"b","m":"DE","q":"p90","x":28,"v":34},{"p":"b","m":"DE","q":"p90","x":45,"v":26},{"p":"b","m":"DE","q":"p90","x":65,"v":18},{"p":"b","m":"DE","q":"p90","x":85,"v":12},{"p":"b","m":"DE","q":"p90","x":100,"v":9},
{"p":"b","m":"PSO","q":"p10","x":1,"v":40},{"p":"b","m":"PSO","q":"p10","x":8,"v":25},{"p":"b","m":"PSO","q":"p10","x":16,"v":18},{"p":"b","m":"PSO","q":"p10","x":28,"v":14},{"p":"b","m":"PSO","q":"p10","x":45,"v":10},{"p":"b","m":"PSO","q":"p10","x":65,"v":4},{"p":"b","m":"PSO","q":"p10","x":85,"v":2},{"p":"b","m":"PSO","q":"p10","x":100,"v":0.9},
{"p":"b","m":"PSO","q":"p90","x":1,"v":75},{"p":"b","m":"PSO","q":"p90","x":8,"v":52},{"p":"b","m":"PSO","q":"p90","x":16,"v":45},{"p":"b","m":"PSO","q":"p90","x":28,"v":40},{"p":"b","m":"PSO","q":"p90","x":45,"v":37},{"p":"b","m":"PSO","q":"p90","x":65,"v":33},{"p":"b","m":"PSO","q":"p90","x":85,"v":25},{"p":"b","m":"PSO","q":"p90","x":100,"v":15},
{"p":"b","m":"AutoCkt","q":"p10","x":1,"v":40},{"p":"b","m":"AutoCkt","q":"p10","x":5,"v":18},{"p":"b","m":"AutoCkt","q":"p10","x":7.3,"v":11},{"p":"b","m":"AutoCkt","q":"p10","x":12.6,"v":8.4},{"p":"b","m":"AutoCkt","q":"p10","x":16,"v":5.8},{"p":"b","m":"AutoCkt","q":"p10","x":20,"v":5},{"p":"b","m":"AutoCkt","q":"p10","x":26,"v":3.9},{"p":"b","m":"AutoCkt","q":"p10","x":31,"v":2.24},{"p":"b","m":"AutoCkt","q":"p10","x":37,"v":2.0},{"p":"b","m":"AutoCkt","q":"p10","x":49,"v":1.78},{"p":"b","m":"AutoCkt","q":"p10","x":65,"v":1.7},{"p":"b","m":"AutoCkt","q":"p10","x":69,"v":1.35},{"p":"b","m":"AutoCkt","q":"p10","x":100,"v":1.23},
{"p":"b","m":"AutoCkt","q":"p90","x":1,"v":70},{"p":"b","m":"AutoCkt","q":"p90","x":8,"v":40},{"p":"b","m":"AutoCkt","q":"p90","x":16,"v":30},{"p":"b","m":"AutoCkt","q":"p90","x":28,"v":24},{"p":"b","m":"AutoCkt","q":"p90","x":45,"v":18},{"p":"b","m":"AutoCkt","q":"p90","x":65,"v":15},{"p":"b","m":"AutoCkt","q":"p90","x":85,"v":12},{"p":"b","m":"AutoCkt","q":"p90","x":100,"v":11},
{"p":"b","m":"DNN-Opt","q":"p10","x":1,"v":40},{"p":"b","m":"DNN-Opt","q":"p10","x":8,"v":25},{"p":"b","m":"DNN-Opt","q":"p10","x":16,"v":20},{"p":"b","m":"DNN-Opt","q":"p10","x":28,"v":17},{"p":"b","m":"DNN-Opt","q":"p10","x":45,"v":15},{"p":"b","m":"DNN-Opt","q":"p10","x":65,"v":14},{"p":"b","m":"DNN-Opt","q":"p10","x":85,"v":13},{"p":"b","m":"DNN-Opt","q":"p10","x":99,"v":12},{"p":"b","m":"DNN-Opt","q":"p10","x":100,"v":0.5},
{"p":"b","m":"DNN-Opt","q":"p90","x":1,"v":75},{"p":"b","m":"DNN-Opt","q":"p90","x":8,"v":50},{"p":"b","m":"DNN-Opt","q":"p90","x":16,"v":43},{"p":"b","m":"DNN-Opt","q":"p90","x":28,"v":38},{"p":"b","m":"DNN-Opt","q":"p90","x":45,"v":34},{"p":"b","m":"DNN-Opt","q":"p90","x":65,"v":31},{"p":"b","m":"DNN-Opt","q":"p90","x":85,"v":29},{"p":"b","m":"DNN-Opt","q":"p90","x":99,"v":28},{"p":"b","m":"DNN-Opt","q":"p90","x":100,"v":2}
]
},
"hconcat": [
{
 "width": 443, "height": 264,
 "title": {"text": "(a) peaking", "orient": "bottom", "anchor": "middle", "frame": "bounds", "fontSize": 15, "fontWeight": "normal", "font": "Liberation Serif", "color": "#000", "offset": 8},
 "resolve": {"scale": {"color": "independent", "shape": "independent", "stroke": "independent"}},
 "encoding": {
  "x": {"field": "x", "type": "quantitative", "scale": {"domain": [0.8, 101], "nice": false, "zero": false}, "axis": {"values": [20, 40, 60, 80, 100], "title": "Function Evaluations", "labelPadding": 2, "titlePadding": 1}},
  "y": {"field": "v", "type": "quantitative", "scale": {"type": "log", "domain": [0.00095, 40.6], "nice": false}, "axis": {"title": "Peaking (dB)", "titlePadding": 4, "labelPadding": 2, "values": [0.001,0.002,0.003,0.004,0.005,0.006,0.007,0.008,0.009,0.01,0.02,0.03,0.04,0.05,0.06,0.07,0.08,0.09,0.1,0.2,0.3,0.4,0.5,0.6,0.7,0.8,0.9,1,2,3,4,5,6,7,8,9,10,20,30,40], "labelExpr": "datum.value==10?'10¹':datum.value==1?'10⁰':datum.value==0.1?'10⁻¹':datum.value==0.01?'10⁻²':datum.value==0.001?'10⁻³':''", "gridDash": {"condition": {"test": "indexof([0.001,0.01,0.1,1,10,100],datum.value)>=0", "value": [3, 2]}, "value": [1, 2]}, "gridColor": {"condition": {"test": "indexof([0.001,0.01,0.1,1,10,100],datum.value)>=0", "value": "#c8c8c8"}, "value": "#e4e4e4"}, "tickSize": {"condition": {"test": "indexof([0.001,0.01,0.1,1,10,100],datum.value)>=0", "value": 3.5}, "value": 2}}},
  "color": {"field": "m", "type": "nominal", "scale": {"domain": ["ZOAF (Ours)","CMA-ES","TuRBO-1","DE","PSO","AutoCkt","DNN-Opt","10th / 90th pct"], "range": ["#1f77b4","#2ca02c","#d62728","#9467bd","#8c564b","#ff7f0e","#17becf","#999999"]}, "legend": null}
 },
 "layer": [
  {"data": {"name": "band"}, "transform": [{"filter": "datum.p=='a'"}], "mark": {"type": "area", "opacity": 0.13}, "encoding": {"y2": {"field": "v2"}}},
  {"data": {"name": "pct"}, "transform": [{"filter": "datum.p=='a' && datum.m!='ZOAF (Ours)'"}], "mark": {"type": "line", "strokeWidth": 0.9, "strokeDash": [1, 1.6], "opacity": 0.6}, "encoding": {"detail": {"field": "q"}}},
  {"data": {"name": "pct"}, "transform": [{"filter": "datum.p=='a' && datum.m=='ZOAF (Ours)'"}], "mark": {"type": "line", "strokeWidth": 1.6, "strokeDash": [1.5, 2.2], "opacity": 0.85}, "encoding": {"detail": {"field": "q"}}},
  {"data": {"name": "med"}, "transform": [{"filter": "datum.p=='a' && datum.m!='ZOAF (Ours)'"}], "mark": {"type": "line", "strokeWidth": 1.4}},
  {"data": {"name": "med"}, "transform": [{"filter": "datum.p=='a' && datum.m=='ZOAF (Ours)'"}], "mark": {"type": "line", "strokeWidth": 2.6}},
  {"data": {"name": "med"}, "transform": [{"filter": "datum.p=='a' && datum.m!='ZOAF (Ours)' && indexof([3,8,16,28,45,65,85,99],datum.x)>=0"}], "mark": {"type": "point", "filled": true, "opacity": 1, "stroke": "white", "strokeWidth": 0.7}, "encoding": {"shape": {"field": "m", "type": "nominal", "scale": {"domain": ["ZOAF (Ours)","CMA-ES","TuRBO-1","DE","PSO","AutoCkt","DNN-Opt","10th / 90th pct"], "range": ["circle","triangle-up","diamond","triangle-down","circle","square","circle","circle"]}, "legend": null}, "size": {"condition": {"test": "datum.m=='PSO' || datum.m=='DNN-Opt'", "value": 18}, "value": 32}}},
  {"data": {"name": "med"}, "transform": [{"filter": "datum.p=='a' && datum.m=='ZOAF (Ours)' && indexof([3,8,16,28,45,65,85,96],datum.x)>=0"}], "mark": {"type": "point", "filled": true, "opacity": 1, "shape": "circle", "size": 58, "stroke": "white", "strokeWidth": 1}},
  {"data": {"name": "med"}, "transform": [{"filter": "datum.p=='a'"}], "mark": {"type": "point", "filled": true, "opacity": 0},
   "encoding": {
    "color": {"field": "m", "type": "nominal", "scale": {"domain": ["ZOAF (Ours)","CMA-ES","TuRBO-1","DE","PSO","AutoCkt","DNN-Opt","10th / 90th pct"], "range": ["#1f77b4","#2ca02c","#d62728","#9467bd","#8c564b","#ff7f0e","#17becf","#999999"]},
      "legend": {"title": null, "orient": "bottom-left", "offset": 4, "columns": 2, "symbolSize": 100, "symbolOpacity": 1, "symbolStrokeWidth": 1.4, "labelFont": "DejaVu Serif", "labelFontWeight": "bold", "labelFontSize": 9, "labelColor": "#000", "labelOffset": 14, "symbolOffset": 9, "columnPadding": 12, "rowPadding": 3, "padding": 5, "strokeColor": "#cccccc", "fillColor": "rgba(255,255,255,0.8)", "cornerRadius": 3, "encode": {"symbols": {"update": {"strokeWidth": {"signal": "datum.value=='ZOAF (Ours)'?2.5:datum.value=='10th / 90th pct'?1:1.4"}}}}}},
    "stroke": {"field": "m", "type": "nominal", "scale": {"domain": ["ZOAF (Ours)","CMA-ES","TuRBO-1","DE","PSO","AutoCkt","DNN-Opt","10th / 90th pct"], "range": ["#1f77b4","#2ca02c","#d62728","#9467bd","#8c564b","#ff7f0e","#17becf","#999999"]},
      "legend": {"title": null, "orient": "bottom-left", "offset": 4, "columns": 2, "symbolSize": 100, "symbolOpacity": 1, "symbolStrokeWidth": 1.4, "labelFont": "DejaVu Serif", "labelFontWeight": "bold", "labelFontSize": 9, "labelColor": "#000", "labelOffset": 14, "symbolOffset": 9, "columnPadding": 12, "rowPadding": 3, "padding": 5, "strokeColor": "#cccccc", "fillColor": "rgba(255,255,255,0.8)", "cornerRadius": 3, "encode": {"symbols": {"update": {"strokeWidth": {"signal": "datum.value=='ZOAF (Ours)'?2.5:datum.value=='10th / 90th pct'?1:1.4"}}}}}},
    "shape": {"field": "m", "type": "nominal", "scale": {"domain": ["ZOAF (Ours)","CMA-ES","TuRBO-1","DE","PSO","AutoCkt","DNN-Opt","10th / 90th pct"], "range": ["M-2.7,0L2.7,0M-0.45,0A0.45,0.45,0,1,1,0.45,0A0.45,0.45,0,1,1,-0.45,0Z","M-2.7,0L2.7,0M0,-0.4L0.35,0.25L-0.35,0.25Z","M-2.7,0L2.7,0M0,-0.45L0.35,0L0,0.45L-0.35,0Z","M-2.7,0L2.7,0M0,0.4L0.35,-0.25L-0.35,-0.25Z","M-2.7,0L2.7,0M-0.25,0A0.25,0.25,0,1,1,0.25,0A0.25,0.25,0,1,1,-0.25,0Z","M-2.7,0L2.7,0M-0.35,-0.35H0.35V0.35H-0.35Z","M-2.7,0L-0.6,0M-0.15,0L0.15,0M0.6,0L2.7,0","M-2.7,0h0.2M-2.2,0h0.2M-1.7,0h0.2M-1.2,0h0.2M-0.7,0h0.2M-0.2,0h0.2M0.3,0h0.2M0.8,0h0.2M1.3,0h0.2M1.8,0h0.2M2.3,0h0.2"]},
      "legend": {"title": null, "orient": "bottom-left", "offset": 4, "columns": 2, "symbolSize": 100, "symbolOpacity": 1, "symbolStrokeWidth": 1.4, "labelFont": "DejaVu Serif", "labelFontWeight": "bold", "labelFontSize": 9, "labelColor": "#000", "labelOffset": 14, "symbolOffset": 9, "columnPadding": 12, "rowPadding": 3, "padding": 5, "strokeColor": "#cccccc", "fillColor": "rgba(255,255,255,0.8)", "cornerRadius": 3, "encode": {"symbols": {"update": {"strokeWidth": {"signal": "datum.value=='ZOAF (Ours)'?2.5:datum.value=='10th / 90th pct'?1:1.4"}}}}}}
   }}
 ]
},
{
 "width": 443, "height": 264,
 "title": {"text": "(b) ripple", "orient": "bottom", "anchor": "middle", "frame": "bounds", "fontSize": 15, "fontWeight": "normal", "font": "Liberation Serif", "color": "#000", "offset": 8},
 "resolve": {"scale": {"color": "independent", "shape": "independent", "stroke": "independent"}},
 "encoding": {
  "x": {"field": "x", "type": "quantitative", "scale": {"domain": [0.8, 101], "nice": false, "zero": false}, "axis": {"values": [20, 40, 60, 80, 100], "title": "Function Evaluations", "labelPadding": 2, "titlePadding": 1}},
  "y": {"field": "v", "type": "quantitative", "scale": {"type": "log", "domain": [0.1, 136], "nice": false}, "axis": {"title": "Ripple (dB)", "titlePadding": 4, "labelPadding": 2, "values": [0.1,0.2,0.3,0.4,0.5,0.6,0.7,0.8,0.9,1,2,3,4,5,6,7,8,9,10,20,30,40,50,60,70,80,90,100], "labelExpr": "datum.value==100?'10²':datum.value==10?'10¹':datum.value==1?'10⁰':datum.value==0.1?'10⁻¹':''", "gridDash": {"condition": {"test": "indexof([0.001,0.01,0.1,1,10,100],datum.value)>=0", "value": [3, 2]}, "value": [1, 2]}, "gridColor": {"condition": {"test": "indexof([0.001,0.01,0.1,1,10,100],datum.value)>=0", "value": "#c8c8c8"}, "value": "#e4e4e4"}, "tickSize": {"condition": {"test": "indexof([0.001,0.01,0.1,1,10,100],datum.value)>=0", "value": 3.5}, "value": 2}}},
  "color": {"field": "m", "type": "nominal", "scale": {"domain": ["ZOAF (Ours)","CMA-ES","TuRBO-1","DE","PSO","AutoCkt","DNN-Opt","10th / 90th pct"], "range": ["#1f77b4","#2ca02c","#d62728","#9467bd","#8c564b","#ff7f0e","#17becf","#999999"]}, "legend": null}
 },
 "layer": [
  {"data": {"name": "band"}, "transform": [{"filter": "datum.p=='b'"}], "mark": {"type": "area", "opacity": 0.13}, "encoding": {"y2": {"field": "v2"}}},
  {"data": {"name": "pct"}, "transform": [{"filter": "datum.p=='b' && datum.m!='ZOAF (Ours)'"}], "mark": {"type": "line", "strokeWidth": 0.9, "strokeDash": [1, 1.6], "opacity": 0.6}, "encoding": {"detail": {"field": "q"}}},
  {"data": {"name": "pct"}, "transform": [{"filter": "datum.p=='b' && datum.m=='ZOAF (Ours)'"}], "mark": {"type": "line", "strokeWidth": 1.6, "strokeDash": [1.5, 2.2], "opacity": 0.85}, "encoding": {"detail": {"field": "q"}}},
  {"data": {"name": "med"}, "transform": [{"filter": "datum.p=='b' && datum.m!='ZOAF (Ours)'"}], "mark": {"type": "line", "strokeWidth": 1.4}},
  {"data": {"name": "med"}, "transform": [{"filter": "datum.p=='b' && datum.m=='ZOAF (Ours)'"}], "mark": {"type": "line", "strokeWidth": 2.6}},
  {"data": {"name": "med"}, "transform": [{"filter": "datum.p=='b' && datum.m!='ZOAF (Ours)' && indexof([3,8,16,28,45,65,85,99],datum.x)>=0"}], "mark": {"type": "point", "filled": true, "opacity": 1, "stroke": "white", "strokeWidth": 0.7}, "encoding": {"shape": {"field": "m", "type": "nominal", "scale": {"domain": ["ZOAF (Ours)","CMA-ES","TuRBO-1","DE","PSO","AutoCkt","DNN-Opt","10th / 90th pct"], "range": ["circle","triangle-up","diamond","triangle-down","circle","square","circle","circle"]}, "legend": null}, "size": {"condition": {"test": "datum.m=='PSO' || datum.m=='DNN-Opt'", "value": 18}, "value": 32}}},
  {"data": {"name": "med"}, "transform": [{"filter": "datum.p=='b' && datum.m=='ZOAF (Ours)' && indexof([3,8,16,28,45,65,85,96],datum.x)>=0"}], "mark": {"type": "point", "filled": true, "opacity": 1, "shape": "circle", "size": 58, "stroke": "white", "strokeWidth": 1}},
  {"data": {"name": "med"}, "transform": [{"filter": "datum.p=='b'"}], "mark": {"type": "point", "filled": true, "opacity": 0},
   "encoding": {
    "color": {"field": "m", "type": "nominal", "scale": {"domain": ["ZOAF (Ours)","CMA-ES","TuRBO-1","DE","PSO","AutoCkt","DNN-Opt","10th / 90th pct"], "range": ["#1f77b4","#2ca02c","#d62728","#9467bd","#8c564b","#ff7f0e","#17becf","#999999"]},
      "legend": {"title": null, "orient": "bottom-left", "offset": 4, "columns": 2, "symbolSize": 100, "symbolOpacity": 1, "symbolStrokeWidth": 1.4, "labelFont": "DejaVu Serif", "labelFontWeight": "bold", "labelFontSize": 9, "labelColor": "#000", "labelOffset": 14, "symbolOffset": 9, "columnPadding": 12, "rowPadding": 3, "padding": 5, "strokeColor": "#cccccc", "fillColor": "rgba(255,255,255,0.8)", "cornerRadius": 3, "encode": {"symbols": {"update": {"strokeWidth": {"signal": "datum.value=='ZOAF (Ours)'?2.5:datum.value=='10th / 90th pct'?1:1.4"}}}}}},
    "stroke": {"field": "m", "type": "nominal", "scale": {"domain": ["ZOAF (Ours)","CMA-ES","TuRBO-1","DE","PSO","AutoCkt","DNN-Opt","10th / 90th pct"], "range": ["#1f77b4","#2ca02c","#d62728","#9467bd","#8c564b","#ff7f0e","#17becf","#999999"]},
      "legend": {"title": null, "orient": "bottom-left", "offset": 4, "columns": 2, "symbolSize": 100, "symbolOpacity": 1, "symbolStrokeWidth": 1.4, "labelFont": "DejaVu Serif", "labelFontWeight": "bold", "labelFontSize": 9, "labelColor": "#000", "labelOffset": 14, "symbolOffset": 9, "columnPadding": 12, "rowPadding": 3, "padding": 5, "strokeColor": "#cccccc", "fillColor": "rgba(255,255,255,0.8)", "cornerRadius": 3, "encode": {"symbols": {"update": {"strokeWidth": {"signal": "datum.value=='ZOAF (Ours)'?2.5:datum.value=='10th / 90th pct'?1:1.4"}}}}}},
    "shape": {"field": "m", "type": "nominal", "scale": {"domain": ["ZOAF (Ours)","CMA-ES","TuRBO-1","DE","PSO","AutoCkt","DNN-Opt","10th / 90th pct"], "range": ["M-2.7,0L2.7,0M-0.45,0A0.45,0.45,0,1,1,0.45,0A0.45,0.45,0,1,1,-0.45,0Z","M-2.7,0L2.7,0M0,-0.4L0.35,0.25L-0.35,0.25Z","M-2.7,0L2.7,0M0,-0.45L0.35,0L0,0.45L-0.35,0Z","M-2.7,0L2.7,0M0,0.4L0.35,-0.25L-0.35,-0.25Z","M-2.7,0L2.7,0M-0.25,0A0.25,0.25,0,1,1,0.25,0A0.25,0.25,0,1,1,-0.25,0Z","M-2.7,0L2.7,0M-0.35,-0.35H0.35V0.35H-0.35Z","M-2.7,0L-0.6,0M-0.15,0L0.15,0M0.6,0L2.7,0","M-2.7,0h0.2M-2.2,0h0.2M-1.7,0h0.2M-1.2,0h0.2M-0.7,0h0.2M-0.2,0h0.2M0.3,0h0.2M0.8,0h0.2M1.3,0h0.2M1.8,0h0.2M2.3,0h0.2"]},
      "legend": {"title": null, "orient": "bottom-left", "offset": 4, "columns": 2, "symbolSize": 100, "symbolOpacity": 1, "symbolStrokeWidth": 1.4, "labelFont": "DejaVu Serif", "labelFontWeight": "bold", "labelFontSize": 9, "labelColor": "#000", "labelOffset": 14, "symbolOffset": 9, "columnPadding": 12, "rowPadding": 3, "padding": 5, "strokeColor": "#cccccc", "fillColor": "rgba(255,255,255,0.8)", "cornerRadius": 3, "encode": {"symbols": {"update": {"strokeWidth": {"signal": "datum.value=='ZOAF (Ours)'?2.5:datum.value=='10th / 90th pct'?1:1.4"}}}}}}
   }}
 ]
}
]
}
